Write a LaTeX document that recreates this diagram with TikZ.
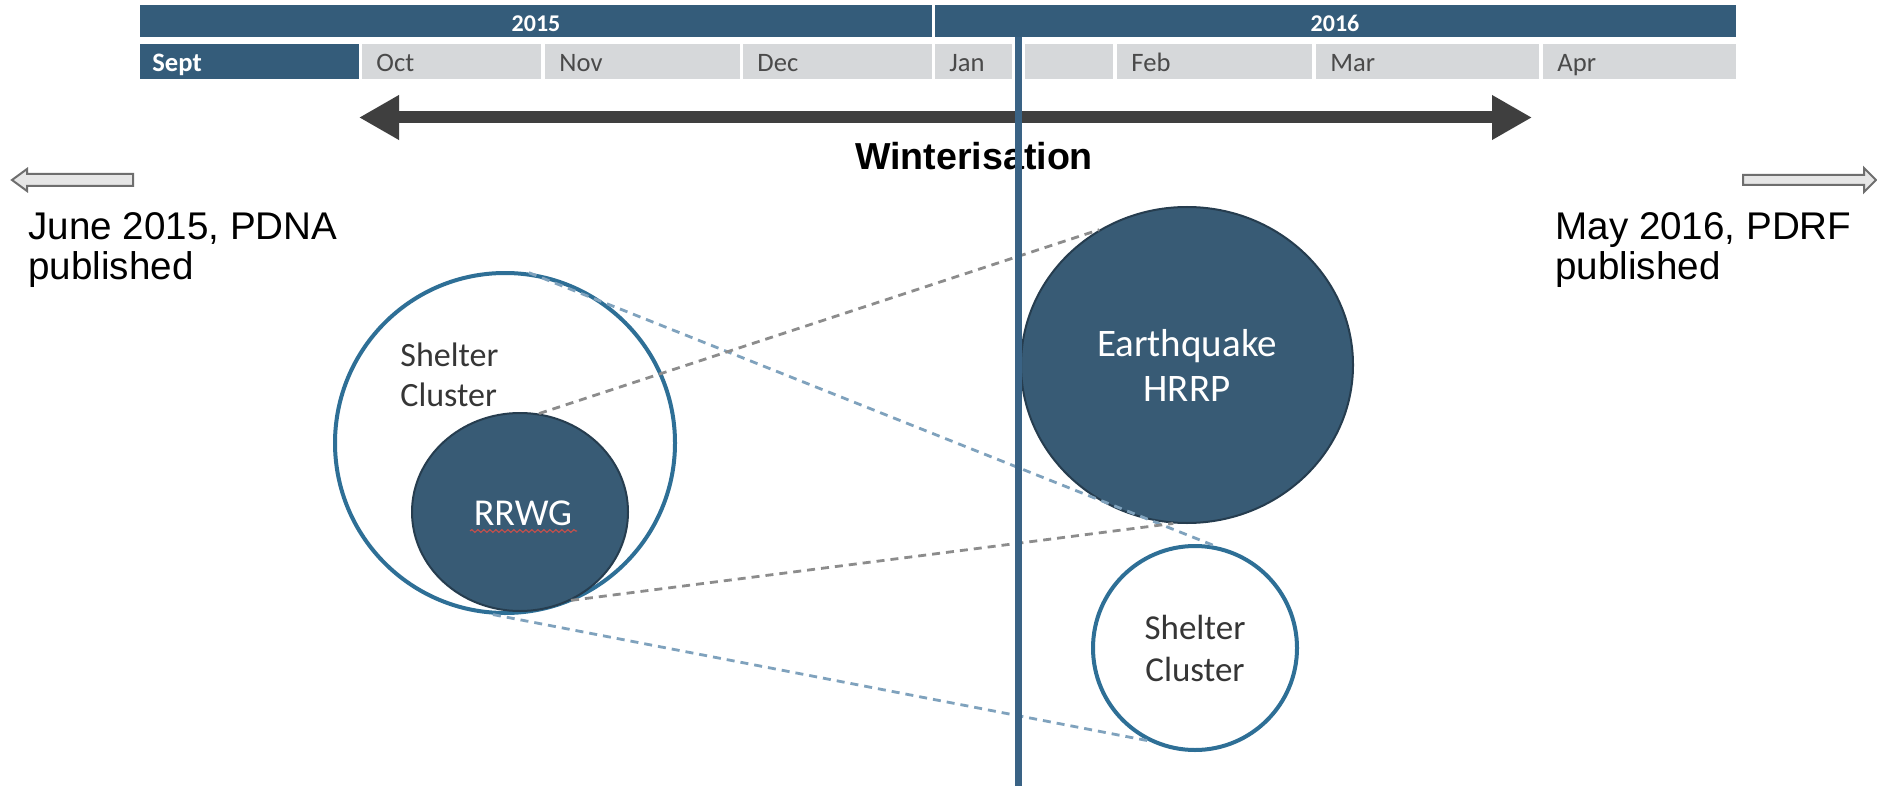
\documentclass[tikz,border=0pt]{standalone}
\usepackage{fontspec}
\setmainfont{Liberation Sans}
\newfontfamily\calib{Carlito}
\usetikzlibrary{arrows.meta,decorations.pathmorphing,shapes.geometric}
\definecolor{navy}{HTML}{345C7A}
\definecolor{cellgray}{HTML}{D6D8DA}
\definecolor{monthtxt}{HTML}{4A4A4A}
\definecolor{circfill}{HTML}{385B75}
\definecolor{circdark}{HTML}{263D4F}
\definecolor{circedge}{HTML}{2E6F96}
\definecolor{arrowdark}{HTML}{3F3F3F}
\definecolor{dashgray}{HTML}{8C8C8C}
\definecolor{dashblue}{HTML}{7FA2BD}
\definecolor{vline}{HTML}{3A6385}
\definecolor{hollowfill}{HTML}{E6E6E6}
\definecolor{hollowedge}{HTML}{6E6E6E}
\definecolor{cltxt}{HTML}{363636}
\definecolor{squig}{HTML}{C0504D}
\begin{document}
\begin{tikzpicture}[x=0.5pt,y=-0.5pt,
  yeartext/.style={font=\calib\bfseries\fontsize{12}{14}\selectfont, text=white, inner sep=0pt, anchor=base},
  monthtext/.style={font=\calib\fontsize{13.3}{15}\selectfont, text=monthtxt, inner sep=0pt, anchor=base west},
  datetext/.style={font=\fontsize{19.3}{20}\selectfont, align=left, inner sep=0pt, anchor=north west},
  darkcirc/.style={draw=circdark, line width=1pt, fill=circfill, text=white, inner sep=0pt},
  outcirc/.style={circle, draw=circedge, line width=2pt, fill=white, inner sep=0pt, text=cltxt},
  dashline/.style={dashed, dash pattern=on 4pt off 3pt, line width=1.4pt},
  hollowarrow/.style={fill=hollowfill, draw=hollowedge, line width=1pt, line join=miter},
]
\useasboundingbox (0,0) rectangle (1877,786);
\fill[white] (0,0) rectangle (1877,786);

% year bar
\fill[navy] (140,5) rectangle (932,37);
\fill[navy] (935,5) rectangle (1736,37);
\node[yeartext] (y2015) at (536,32) {2015};
\node[yeartext] (y2016) at (1335,32) {2016};

% month row
\fill[navy] (140,44) rectangle (359,79);
\node[monthtext, font=\calib\bfseries\fontsize{13.3}{15}\selectfont, text=white] (mSept) at (152,72) {Sept};
\foreach \a/\b/\t in {362/541/Oct,545/740/Nov,743/932/Dec,935/1113/Jan,1117/1312/Feb,1316/1539/Mar,1543/1736/Apr}{
  \fill[cellgray] (\a,44) rectangle (\b,79);
  \node[monthtext] (m\t) at (\a+14,72) {\t};
}

% winterisation arrow
\coordinate (wL) at (359,117.5);
\coordinate (wR) at (1532,117.5);
\draw[line width=6pt, arrowdark, {Triangle[length=20pt,width=21pt]}-{Triangle[length=20pt,width=21pt]}] (wL) -- (wR);
\node[font=\bfseries\fontsize{18.8}{20}\selectfont, inner sep=0pt, anchor=base] (wint) at (974,170) {Winterisation};

% hollow side arrows
\draw[hollowarrow] (12,180) -- (27,169) -- (27,174) -- (133,174) -- (133,186) -- (27,186) -- (27,191) -- cycle;
\draw[hollowarrow] (1876,180) -- (1864,168) -- (1864,175) -- (1743,175) -- (1743,185) -- (1864,185) -- (1864,192) -- cycle;

% side texts
\node[datetext] (june) at (28,212) {June 2015, PDNA\\published};
\node[datetext] (may) at (1555,212) {May 2016, PDRF\\published};

% circles
\node[outcirc, minimum size=170pt] (bigSC) at (505,443) {};
\node[darkcirc, ellipse, minimum width=108pt, minimum height=99pt] (rrwg) at (520,512) {};
\node[darkcirc, ellipse, minimum width=166pt, minimum height=158pt, align=center,
      font=\calib\fontsize{19.5}{22.5}\selectfont] (eq) at (1187,365) {Earthquake\\HRRP};
\node[outcirc, minimum size=102pt, align=center, font=\calib\fontsize{17.5}{21}\selectfont] (smallSC) at (1195,648) {Shelter\\Cluster};

% dashed connectors
\draw[dashline, dashblue] (bigSC.82) -- (smallSC.79);
\draw[dashline, dashgray] (rrwg.79) -- (eq.123);
\draw[dashline, dashgray] (rrwg.-60) -- (eq.-95);
\draw[dashline, dashblue] (bigSC.-94) -- (smallSC.-117);

% texts in left circles
\node[font=\calib\fontsize{17}{20}\selectfont, text=cltxt, align=left, inner sep=0pt, anchor=north west] (sc1txt) at (400,342) {Shelter\\Cluster};
\node[font=\calib\fontsize{19}{22}\selectfont, text=white, inner sep=0pt, anchor=base] (rrwgtxt) at (523,525) {RRWG};
\coordinate (sqL) at (470,531);
\coordinate (sqR) at (577,531);
\draw[squig, line width=0.6pt, decorate, decoration={snake, amplitude=0.7pt, segment length=3pt}] (sqL) -- (sqR);

% vertical line
\coordinate (vtop) at (1018.5,37);
\coordinate (vbot) at (1018.5,786);
\draw[white, line width=6.5pt] (1018.5,44) -- (1018.5,79);
\draw[vline, line width=3.5pt] (vtop) -- (vbot);
\end{tikzpicture}
\end{document}
